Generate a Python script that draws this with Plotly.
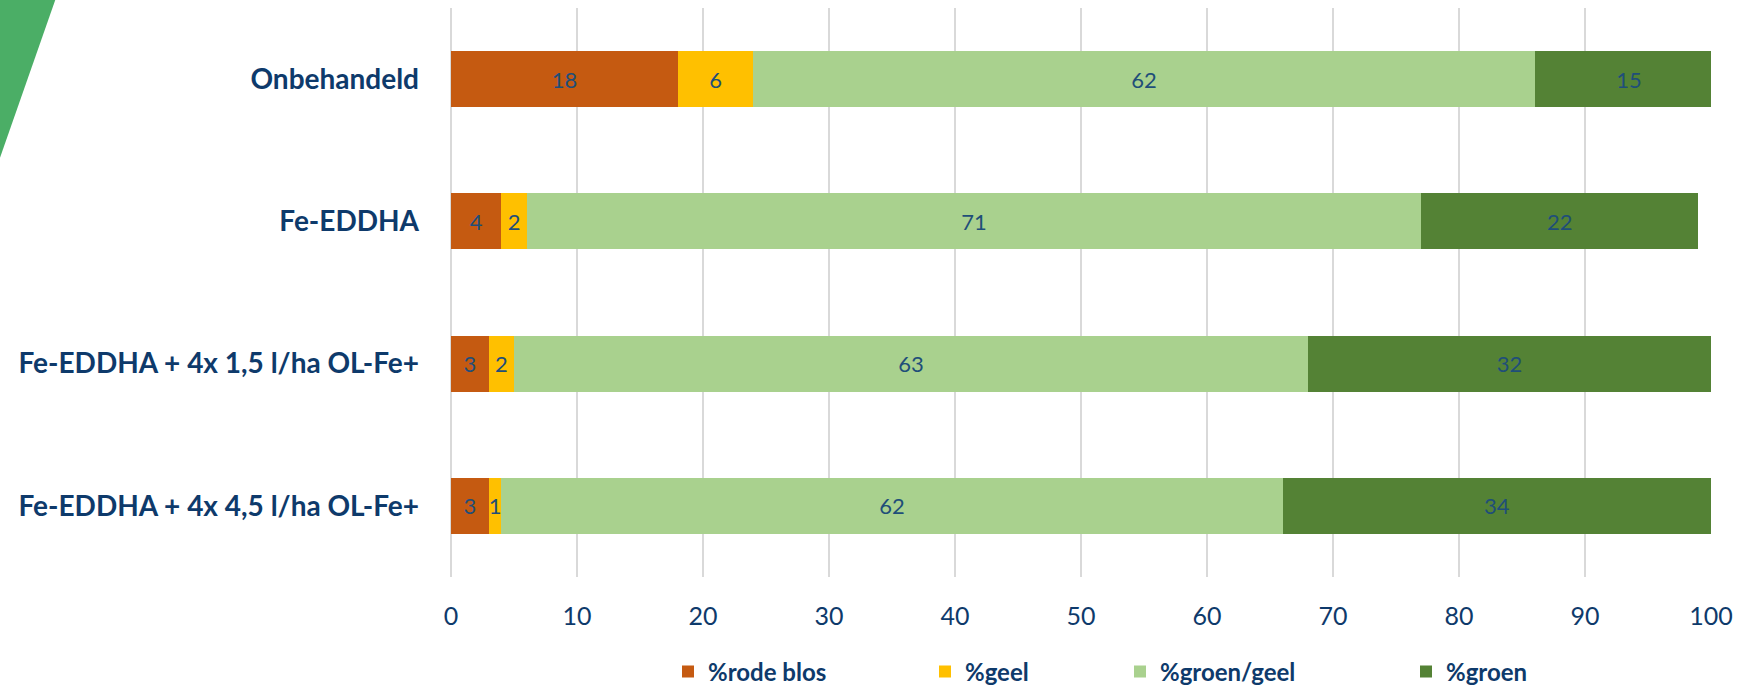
import plotly.graph_objects as go

categories = [
    "Onbehandeld",
    "Fe-EDDHA",
    "Fe-EDDHA + 4x 1,5 l/ha OL-Fe+",
    "Fe-EDDHA + 4x 4,5 l/ha OL-Fe+",
]
rode_blos = [18, 4, 3, 3]
geel = [6, 2, 2, 1]
groen_geel = [62, 71, 63, 62]
groen = [15, 22, 32, 34]

series = [
    ("%rode blos", rode_blos, "#C55A11"),
    ("%geel", geel, "#FFC000"),
    ("%groen/geel", groen_geel, "#A9D18E"),
    ("%groen", groen, "#548235"),
]
x_ticks = [0, 10, 20, 30, 40, 50, 60, 70, 80, 90, 100]

TEXT = "#0E3A6B"
FONT = "Lato"

# plot area in pixels (so the paper coords below line up)
L, R, T, B = 451, 28, 8, 110
W, H = 1739, 687
pw, ph = W - L - R, H - T - B


def px_x(p):
    return (p - L) / pw


def px_y(p):
    return (H - B - p) / ph


fig = go.Figure()
legend_ids = ["legend", "legend2", "legend3", "legend4"]
for (name, vals, color), lg in zip(series, legend_ids):
    fig.add_trace(
        go.Bar(
            y=categories,
            x=vals,
            name=name,
            orientation="h",
            marker=dict(color=color, line=dict(width=0)),
            text=[str(v) for v in vals],
            textposition="inside",
            insidetextanchor="middle",
            constraintext="none",
            textangle=0,
            textfont=dict(family=FONT, size=22, color="#1F4E79"),
            legend=lg,
            hoverinfo="skip",
        )
    )

# green corner decoration
fig.add_shape(
    type="path",
    xref="paper",
    yref="paper",
    path=f"M {px_x(-5)},{px_y(-5)} L {px_x(57)},{px_y(-5)} L {px_x(-5)},{px_y(172)} Z",
    fillcolor="#4BAE66",
    line=dict(width=0),
    layer="below",
)

legend_text_starts = [710, 967, 1162, 1448]
legend_style = dict(
    orientation="h",
    yanchor="middle",
    y=px_y(672),
    xanchor="left",
    font=dict(family=FONT, size=24, color=TEXT, weight="bold"),
    bgcolor="rgba(0,0,0,0)",
    itemclick=False,
)
legends = {}
for lg, start in zip(legend_ids, legend_text_starts):
    legends[lg] = dict(legend_style, x=px_x(start - 42))

fig.update_layout(
    barmode="stack",
    bargap=0.606,
    width=W,
    height=H,
    margin=dict(l=L, r=R, t=T, b=B, pad=0, autoexpand=False),
    plot_bgcolor="white",
    paper_bgcolor="white",
    showlegend=True,
    **legends,
    xaxis=dict(
        range=[0, 100],
        tickvals=x_ticks,
        showgrid=True,
        gridcolor="#D9D9D9",
        gridwidth=2,
        zeroline=True,
        zerolinecolor="#D9D9D9",
        zerolinewidth=2,
        showline=False,
        ticks="",
        ticklabelstandoff=22,
        tickfont=dict(family=FONT, size=25, color=TEXT),
        fixedrange=True,
    ),
    yaxis=dict(
        autorange="reversed",
        showgrid=False,
        zeroline=False,
        showline=False,
        ticks="",
        ticklabelstandoff=31,
        tickfont=dict(family=FONT, size=28, color=TEXT, weight="bold"),
        fixedrange=True,
    ),
)

fig.write_html(
    "out.html",
    config={"displayModeBar": False},
    post_script="document.body.style.margin='0';",
)
